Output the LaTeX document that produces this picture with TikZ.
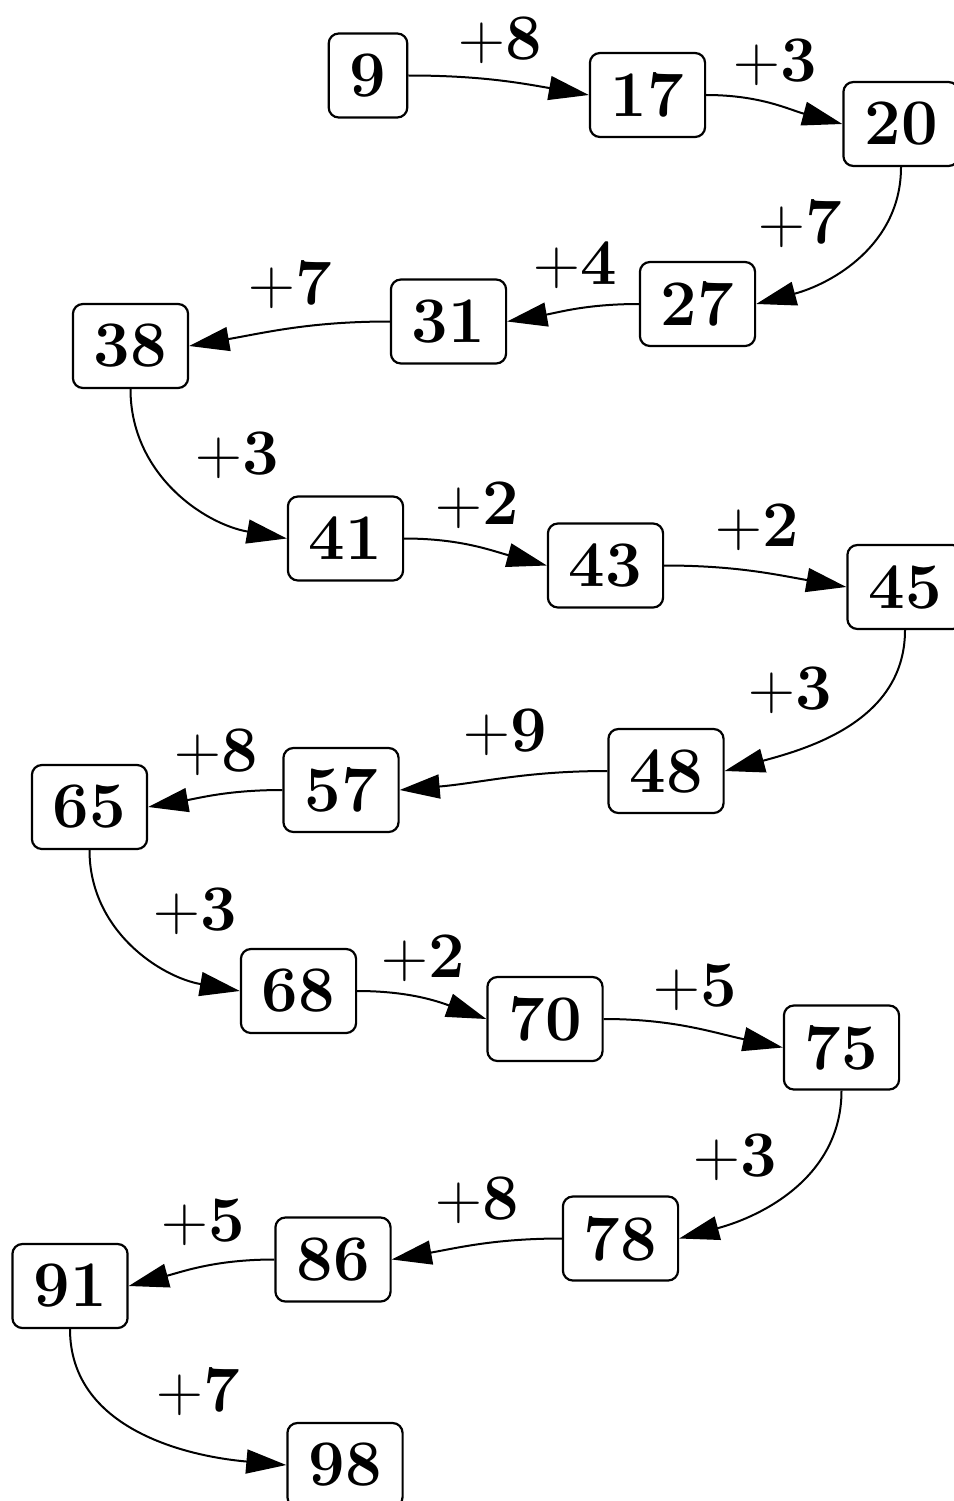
\documentclass[tikz,border=0pt]{standalone}
\usetikzlibrary{arrows.meta}
\tikzset{
  num/.style={draw, line width=2.2pt, rounded corners=10pt, inner xsep=21pt, inner ysep=0pt,
    minimum height=84pt, font=\fontsize{65}{78}\selectfont\bfseries},
  lbl/.style={inner sep=0pt, font=\fontsize{65}{78}\selectfont},
  conn/.style={line width=2pt, -{Triangle[length=40pt,width=24pt]}},
}
\begin{document}
\begin{tikzpicture}[x=1pt,y=1pt]
\useasboundingbox (0,0) rectangle (953,-1501);
% nodes
\node[num] (n9)  at (368,-75.5)   {9};
\node[num] (n17) at (647.5,-95)   {17};
\node[num] (n20) at (901,-124)    {20};
\node[num] (n27) at (697.5,-304)  {27};
\node[num] (n31) at (448.5,-321.5){31};
\node[num] (n38) at (130.5,-346)  {38};
\node[num] (n41) at (345.5,-538.5){41};
\node[num] (n43) at (605.5,-565.5){43};
\node[num] (n45) at (905,-587)    {45};
\node[num] (n48) at (666,-771)    {48};
\node[num] (n57) at (341,-790)    {57};
\node[num] (n65) at (89.5,-807)   {65};
\node[num] (n68) at (298.5,-991)  {68};
\node[num] (n70) at (545,-1019)   {70};
\node[num] (n75) at (841.5,-1047.5){75};
\node[num] (n78) at (620.5,-1238.5){78};
\node[num] (n86) at (333,-1259.5) {86};
\node[num] (n91) at (70,-1286)    {91};
\node[num] (n98) at (345,-1465)   {98};
% edges
\draw[conn] (n9.east)  to[out=0,in=170]   (n17.west);
\draw[conn] (n17.east) to[out=0,in=165]   (n20.west);
\draw[conn] (n20.south) to[out=-90,in=15] (n27.east);
\draw[conn] (n27.west) to[out=180,in=10]  (n31.east);
\draw[conn] (n31.west) to[out=180,in=10]  (n38.east);
\draw[conn] (n38.south) to[out=-90,in=170] (n41.west);
\draw[conn] (n41.east) to[out=0,in=165]   (n43.west);
\draw[conn] (n43.east) to[out=0,in=170]   (n45.west);
\draw[conn] (n45.south) to[out=-90,in=15] (n48.east);
\draw[conn] (n48.west) to[out=180,in=5]   (n57.east);
\draw[conn] (n57.west) to[out=180,in=10]  (n65.east);
\draw[conn] (n65.south) to[out=-90,in=170] (n68.west);
\draw[conn] (n68.east) to[out=0,in=160]   (n70.west);
\draw[conn] (n70.east) to[out=0,in=168]   (n75.west);
\draw[conn] (n75.south) to[out=-90,in=15] (n78.east);
\draw[conn] (n78.west) to[out=180,in=10]  (n86.east);
\draw[conn] (n86.west) to[out=180,in=15]  (n91.east);
\draw[conn] (n91.south) to[out=-90,in=175] (n98.west);
% labels
\node[lbl] (l1)  at (500,-40)   {+\textbf{8}};
\node[lbl] (l2)  at (775,-62)   {+\textbf{3}};
\node[lbl] (l3)  at (800,-224)  {+\textbf{7}};
\node[lbl] (l4)  at (575,-265)  {+\textbf{4}};
\node[lbl] (l5)  at (290,-285)  {+\textbf{7}};
\node[lbl] (l6)  at (237,-455)  {+\textbf{3}};
\node[lbl] (l7)  at (477,-505)  {+\textbf{2}};
\node[lbl] (l8)  at (757,-527)  {+\textbf{2}};
\node[lbl] (l9)  at (790,-690)  {+\textbf{3}};
\node[lbl] (l10) at (505,-732)  {+\textbf{9}};
\node[lbl] (l11) at (216,-752)  {+\textbf{8}};
\node[lbl] (l12) at (195,-911)  {+\textbf{3}};
\node[lbl] (l13) at (423,-958)  {+\textbf{2}};
\node[lbl] (l14) at (695,-987)  {+\textbf{5}};
\node[lbl] (l15) at (735,-1157) {+\textbf{3}};
\node[lbl] (l16) at (477,-1200) {+\textbf{8}};
\node[lbl] (l17) at (203,-1222) {+\textbf{5}};
\node[lbl] (l18) at (198,-1392) {+\textbf{7}};
\end{tikzpicture}
\end{document}
